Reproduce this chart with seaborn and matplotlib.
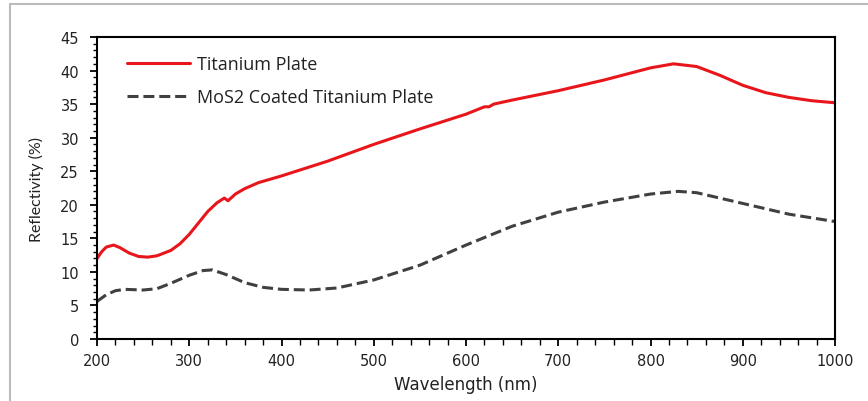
import matplotlib
matplotlib.use("Agg")
import matplotlib.pyplot as plt
import seaborn as sns
import pandas as pd
from matplotlib.ticker import MultipleLocator
from matplotlib.patches import Rectangle

# Data
ti_wavelength = [200, 205, 210, 218, 225, 235, 245, 255, 265, 280, 290, 300, 310, 320, 330, 338, 342,
                 350, 360, 375, 400, 450, 500, 550, 600, 620, 625, 630, 650, 700, 750, 800, 825,
                 850, 875, 900, 925, 950, 975, 1000]
ti_reflect = [12.0, 13.0, 13.7, 14.0, 13.6, 12.8, 12.3, 12.2, 12.4, 13.2, 14.2, 15.6, 17.3, 19.0, 20.3,
              21.0, 20.6, 21.6, 22.4, 23.3, 24.3, 26.5, 29.0, 31.3, 33.5, 34.6, 34.6, 35.0, 35.6,
              37.0, 38.6, 40.4, 41.0, 40.6, 39.3, 37.8, 36.7, 36.0, 35.5, 35.2]

mos2_wavelength = [200, 210, 220, 230, 250, 265, 280, 300, 315, 325, 340, 360, 380, 400, 430, 460,
                   500, 550, 600, 650, 700, 750, 800, 830, 850, 900, 950, 1000]
mos2_reflect = [5.6, 6.6, 7.2, 7.4, 7.3, 7.5, 8.3, 9.5, 10.2, 10.3, 9.6, 8.4, 7.7, 7.4, 7.3, 7.6,
                8.8, 11.0, 14.0, 16.8, 18.9, 20.4, 21.6, 22.0, 21.8, 20.2, 18.6, 17.5]

labels = ["Titanium Plate", "MoS2 Coated Titanium Plate"]

sns.set_style("white")
plt.rcParams['font.family'] = ['DejaVu Sans']

fig = plt.figure(figsize=(8.68, 4.02), dpi=100)
ax = fig.add_axes([0.1118, 0.1542, 0.8502, 0.7513])

df_ti = pd.DataFrame({"w": ti_wavelength, "r": ti_reflect})
df_mo = pd.DataFrame({"w": mos2_wavelength, "r": mos2_reflect})
sns.lineplot(data=df_ti, x="w", y="r", ax=ax, color="#e8161b", linewidth=2.2, label=labels[0])
sns.lineplot(data=df_mo, x="w", y="r", ax=ax, color="#404040", linewidth=2.2, label=labels[1],
             linestyle=(0, (3.6, 1.6)))

ax.set_xlim(200, 1000)
ax.set_ylim(0, 45)
ax.xaxis.set_major_locator(MultipleLocator(100))
ax.xaxis.set_minor_locator(MultipleLocator(20))
ax.yaxis.set_major_locator(MultipleLocator(5))
ax.yaxis.set_minor_locator(MultipleLocator(1))
ax.tick_params(axis='both', which='major', direction='out', length=5, width=1.3, color='black',
               labelsize=10.5, labelcolor='#222222', bottom=True, left=True)
ax.tick_params(axis='y', which='major', pad=8)
ax.tick_params(axis='x', which='major', pad=5)
ax.tick_params(axis='both', which='minor', direction='out', length=3, width=1.0, color='black',
               bottom=True, left=True)
ax.tick_params(axis='x', which='minor', length=4)
for s in ax.spines.values():
    s.set_color('black')
    s.set_linewidth(1.5)

ax.set_xlabel("Wavelength (nm)", fontsize=12, color='#222222', labelpad=5)
ax.set_ylabel("Reflectivity (%)", fontsize=11.5, family=['Lato', 'DejaVu Sans'], color='#222222',
              labelpad=12)

leg = ax.legend(loc='upper left', bbox_to_anchor=(0.031, 0.964), borderaxespad=0, frameon=False,
                handlelength=3.5, labelspacing=0.85, handletextpad=0.35,
                prop={'family': ['Open Sans', 'DejaVu Sans'], 'size': 13})
for t in leg.get_texts():
    t.set_color('#222222')

fig.patches.append(Rectangle((0.012, -0.1), 1.1, 1.087, transform=fig.transFigure,
                             fill=False, edgecolor='#bbbbbb', linewidth=1.5))

fig.savefig("out.png", dpi=100)
